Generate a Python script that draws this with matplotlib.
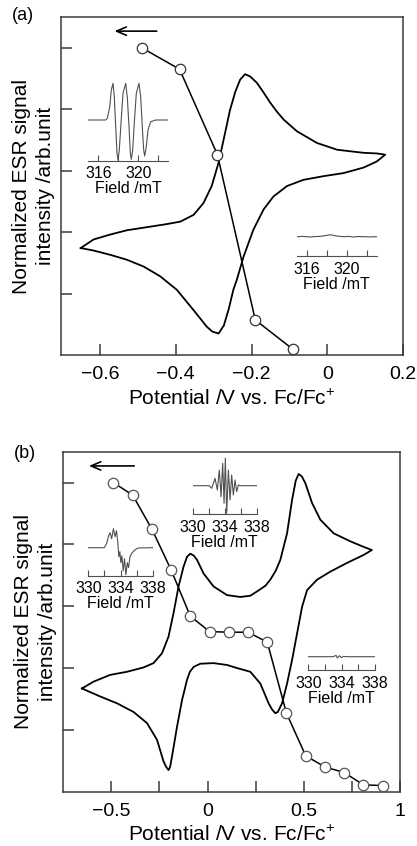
import matplotlib
matplotlib.use("Agg")
import matplotlib.pyplot as plt
from matplotlib.ticker import FixedLocator, FixedFormatter, NullLocator

plt.rcParams['font.family'] = ['Liberation Sans', 'DejaVu Sans']
plt.rcParams['mathtext.fontset'] = 'custom'
plt.rcParams['mathtext.rm'] = 'Liberation Sans'
plt.rcParams['mathtext.default'] = 'regular'

# ---------------- data: panel (a) ----------------
esr_a_x = [-0.49, -0.39, -0.29, -0.19, -0.09]
esr_a_y = [5.0, 4.65, 3.26, 0.57, 0.09]

cv_a_x = [-0.651, -0.617, -0.573, -0.529, -0.476, -0.424, -0.388, -0.353, -0.327, -0.305,
          -0.287, -0.272, -0.257, -0.243, -0.230, -0.217, -0.203, -0.186, -0.168, -0.151,
          -0.133, -0.115, -0.080, -0.027, 0.026, 0.096, 0.131, 0.153,
          0.131, 0.096, 0.043, -0.010, -0.063, -0.106, -0.142, -0.168, -0.195, -0.221,
          -0.239, -0.248, -0.260, -0.273, -0.287, -0.303, -0.318, -0.353, -0.397, -0.441,
          -0.485, -0.529, -0.573, -0.617, -0.651]
cv_a_y = [1.74, 1.88, 1.96, 2.03, 2.08, 2.13, 2.17, 2.28, 2.47, 2.75,
          3.13, 3.55, 3.98, 4.28, 4.48, 4.57, 4.53, 4.43, 4.27, 4.11,
          3.96, 3.83, 3.64, 3.45, 3.34, 3.29, 3.28, 3.26,
          3.15, 3.05, 2.96, 2.91, 2.85, 2.75, 2.58, 2.37, 2.04, 1.60,
          1.22, 1.06, 0.75, 0.48, 0.35, 0.38, 0.46, 0.73, 1.06, 1.28,
          1.44, 1.55, 1.63, 1.70, 1.74]

xticks_a = [-0.6, -0.4, -0.2, 0.0, 0.2]
xticklabels_a = ['\u22120.6', '\u22120.4', '\u22120.2', '0', '0.2']

# inset spectra (a)
spec_a1_field = [315.0, 316.74, 316.9, 317.14, 317.3, 317.47, 317.6, 317.74, 317.87, 317.97,
                 318.1, 318.27, 318.47, 318.74, 318.9, 319.07, 319.2, 319.3, 319.44, 319.6,
                 319.8, 320.07, 320.24, 320.4, 320.54, 320.64, 320.8, 320.97, 321.24, 321.74, 322.9]
spec_a1_int = [0, 0, 1.7, 13, 30, 36.7, 23, -6.7, -33, -40,
               -30, -3.3, 26.7, 36.7, 23, -6.7, -33, -39.3, -30, -3,
               26.7, 36.7, 23, -6.7, -30, -36, -26.7, -10, -1.7, 0, 0]
spec_a2_field = [315.0, 315.6, 316.33, 316.9, 317.33, 318.0, 318.33, 318.66, 319.0, 319.66,
                 320.2, 320.66, 321.2, 321.66, 322.3, 323.0]
spec_a2_int = [0, 0.3, -0.3, 0.2, 0.3, 1.3, 2.0, 1.3, 0.7, 0,
               0.3, -0.3, 0.2, 0, -0.2, 0]
field_ticks_a = [316, 318, 320, 322]
field_labels_a = ['316', '', '320', '']

# ---------------- data: panel (b) ----------------
esr_b_x = [-0.49, -0.39, -0.29, -0.19, -0.09, 0.01, 0.11, 0.21, 0.31, 0.41,
           0.51, 0.61, 0.71, 0.81, 0.91]
esr_b_y = [5.0, 4.80, 4.25, 3.59, 2.84, 2.59, 2.58, 2.58, 2.42, 1.27,
           0.58, 0.40, 0.31, 0.11, 0.10]

cv_b_x = [-0.653, -0.593, -0.506, -0.419, -0.333, -0.281, -0.237, -0.203, -0.177, -0.151,
          -0.125, -0.107, -0.090, -0.072, -0.055, -0.021, 0.031, 0.101, 0.170, 0.222,
          0.257, 0.300, 0.326, 0.355, 0.378, 0.413, 0.439, 0.458, 0.473, 0.490,
          0.508, 0.543, 0.586, 0.655, 0.742, 0.811, 0.854,
          0.811, 0.724, 0.638, 0.569, 0.517, 0.491, 0.465, 0.439, 0.413, 0.387,
          0.365, 0.352, 0.335, 0.317, 0.274, 0.222, 0.153, 0.101, 0.031, -0.038,
          -0.072, -0.092, -0.107, -0.133, -0.159, -0.185, -0.195, -0.203, -0.215, -0.229,
          -0.263, -0.315, -0.385, -0.471, -0.558, -0.653]
cv_b_y = [1.67, 1.78, 1.89, 1.94, 2.01, 2.08, 2.24, 2.51, 2.89, 3.32,
          3.64, 3.80, 3.85, 3.82, 3.75, 3.53, 3.32, 3.18, 3.15, 3.17,
          3.24, 3.33, 3.43, 3.58, 3.75, 4.18, 4.72, 5.03, 5.14, 5.10,
          4.99, 4.67, 4.40, 4.18, 4.05, 3.96, 3.91,
          3.83, 3.70, 3.56, 3.43, 3.26, 2.99, 2.56, 2.13, 1.75, 1.43,
          1.29, 1.27, 1.33, 1.43, 1.75, 1.94, 2.00, 2.05, 2.08, 2.07,
          2.02, 1.94, 1.81, 1.48, 1.05, 0.57, 0.40, 0.35, 0.40, 0.49,
          0.84, 1.11, 1.29, 1.43, 1.54, 1.67]

xticks_b = [-0.5, -0.25, 0.0, 0.25, 0.5, 0.75, 1.0]
xticklabels_b = ['\u22120.5', '', '0', '', '0.5', '', '1']

spec_b1_field = [330.0, 331.98, 332.27, 332.53, 332.70, 332.9, 333.12, 333.33, 333.5, 333.67,
                 333.79, 333.92, 334.04, 334.17, 334.34, 334.5, 334.67, 334.85, 335.0, 335.18,
                 335.39, 335.77, 336.19, 338.0]
spec_b1_int = [0, 0, 4, 12, 15, 9, 19, 11, 17, 5,
               -9, -4, -15, -8, -23, -11, -27, -15, -20, -9,
               -5.6, -2.3, -0.3, 0]
spec_b2_field = [330.0, 332.08, 332.37, 332.79, 333.08, 333.33, 333.54, 333.75, 333.92, 334.08,
                 334.25, 334.46, 334.67, 334.87, 335.08, 335.29, 335.5, 335.71, 335.92, 338.0]
spec_b2_int = [0, 0, -2.6, 7.4, -4.3, 15.7, -11, 22.4, -17.6, 27.4,
               -27.6, 15.7, -14.3, 10.7, -9.3, 5.7, -6, 0.7, 0, 0]
spec_b3_field = [330.0, 332.6, 333.0, 333.33, 333.49, 333.73, 333.97, 334.2, 334.6, 338.0]
spec_b3_int = [0, 0, 0, 1.3, -1.3, 1.0, -1.0, 0.3, 0, 0]
field_ticks_b = [330, 332, 334, 336, 338]
field_labels_b = ['330', '', '334', '', '338']

yticks = [1, 2, 3, 4, 5]

# ---------------- layout ----------------
W, H = 417, 846
fig = plt.figure(figsize=(W / 100, H / 100), dpi=100)


def rect(x0, y0, x1, y1):
    return [x0 / W, 1 - y1 / H, (x1 - x0) / W, (y1 - y0) / H]


SPINE = '#3a3a3a'


def style_main(ax, xlim, xticks, xlabels, ylab_x):
    ax.set_xlim(*xlim)
    ax.set_ylim(0, 5.5)
    for s in ax.spines.values():
        s.set_color(SPINE)
        s.set_linewidth(1.1)
    ax.xaxis.set_major_locator(FixedLocator(xticks))
    ax.xaxis.set_major_formatter(FixedFormatter(xlabels))
    ax.yaxis.set_major_locator(FixedLocator(yticks))
    ax.set_yticklabels([])
    ax.tick_params(direction='in', length=8, width=1.1, color=SPINE,
                   labelsize=14, pad=8, top=False, right=False)
    ax.set_xlabel('Potential /V vs. Fc/Fc$^{+}$', fontsize=15, labelpad=4)
    ax.set_ylabel('Normalized ESR signal\nintensity /arb.unit', fontsize=15,
                  linespacing=1.3)
    ax.yaxis.set_label_coords(ylab_x, 0.5)


def inset(rc, xlim, ylim, fx, fy, ticks, labels):
    ia = fig.add_axes(rect(*rc))
    ia.patch.set_alpha(0)
    ia.plot(fx, fy, color='#505050', lw=0.8)
    ia.set_xlim(*xlim)
    ia.set_ylim(*ylim)
    for k in ['left', 'right', 'top']:
        ia.spines[k].set_visible(False)
    ia.spines['bottom'].set_color('#505050')
    ia.spines['bottom'].set_linewidth(0.8)
    ia.yaxis.set_major_locator(NullLocator())
    ia.xaxis.set_major_locator(FixedLocator(ticks))
    ia.xaxis.set_major_formatter(FixedFormatter(labels))
    ia.tick_params(axis='x', direction='in', length=4, width=0.8, color='#505050',
                   labelsize=11.5, pad=4)
    ia.set_xlabel('Field /mT', fontsize=11.5, labelpad=0)
    return ia


# panel (a)
axa = fig.add_axes(rect(61, 17, 403, 355))
style_main(axa, (-0.703, 0.2), xticks_a, xticklabels_a, (55 - 61) / 342)
axa.plot(cv_a_x, cv_a_y, color='black', lw=1.3)
axa.plot(esr_a_x, esr_a_y, color='black', lw=1.1, marker='o', ms=7.5,
         mfc='white', mec='#333333', mew=0.9, clip_on=False, zorder=5)
axa.annotate('', xy=(-0.569, 5.27), xytext=(-0.443, 5.27),
             arrowprops=dict(arrowstyle='->,head_length=0.7,head_width=0.3',
                             color='black', lw=1.2))
fig.text(23 / W, 1 - 15 / H, '(a)', fontsize=13, ha='center', va='center')

inset((88.3, 81, 168.3, 160.7), (315, 323), (-40.7, 39),
      spec_a1_field, spec_a1_int, field_ticks_a, field_labels_a)
inset((296.7, 226, 376.7, 256), (315, 323), (-19.3, 10.7),
      spec_a2_field, spec_a2_int, field_ticks_a, field_labels_a)

# panel (b)
axb = fig.add_axes(rect(63.3, 451.7, 400, 791.7))
style_main(axb, (-0.75, 1.0), xticks_b, xticklabels_b, (57 - 63.3) / 336.7)
axb.plot(cv_b_x, cv_b_y, color='black', lw=1.3)
axb.plot(esr_b_x, esr_b_y, color='black', lw=1.1, marker='o', ms=7.5,
         mfc='white', mec='#555555', mew=0.9, clip_on=False, zorder=5)
axb.annotate('', xy=(-0.631, 5.27), xytext=(-0.367, 5.27),
             arrowprops=dict(arrowstyle='->,head_length=0.7,head_width=0.3',
                             color='black', lw=1.2))
fig.text(25 / W, 1 - 453 / H, '(b)', fontsize=13, ha='center', va='center')

inset((88.3, 524, 152.7, 575.7), (330, 338), (-28, 23.7),
      spec_b1_field, spec_b1_int, field_ticks_b, field_labels_b)
inset((192.7, 456, 256.7, 514.3), (330, 338), (-28.6, 29.7),
      spec_b2_field, spec_b2_int, field_ticks_b, field_labels_b)
inset((308.3, 650, 375, 670), (330, 338), (-13.3, 6.7),
      spec_b3_field, spec_b3_int, field_ticks_b, field_labels_b)

fig.savefig('out.png', dpi=100)
